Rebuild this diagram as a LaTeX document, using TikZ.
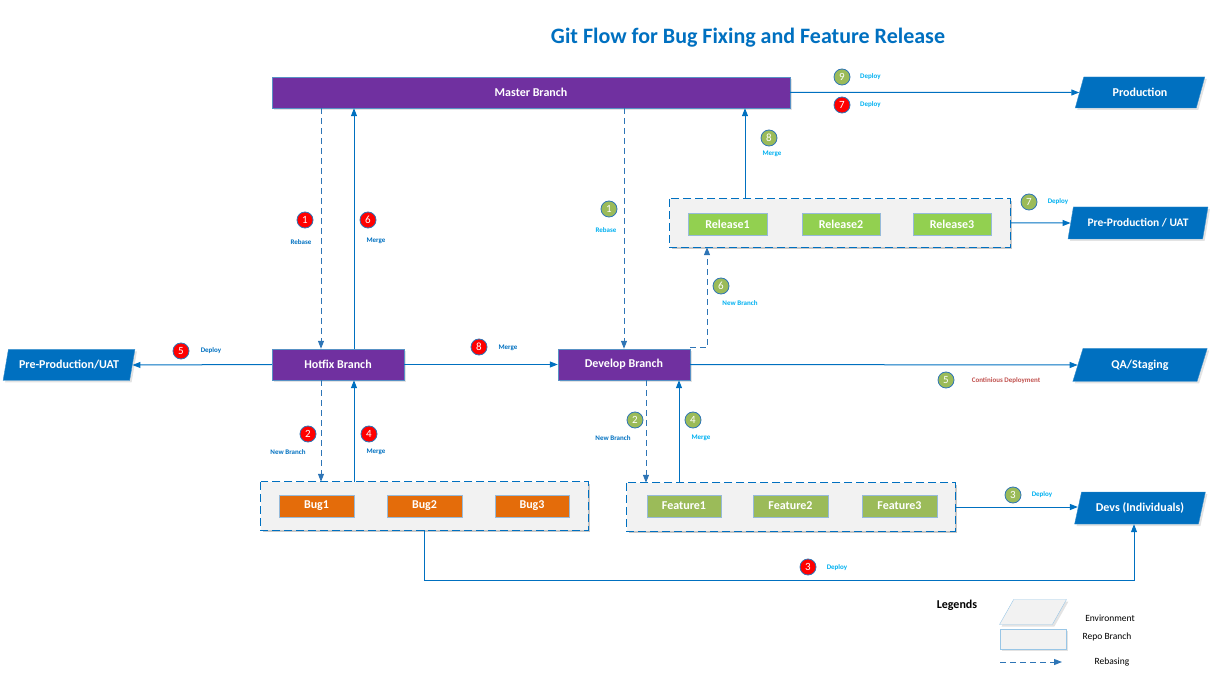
\documentclass[tikz,border=0pt]{standalone}
\usepackage{fontspec}
\setmainfont{Carlito}
\usetikzlibrary{arrows.meta,shapes.geometric,shadows}
\definecolor{tblue}{RGB}{0,112,192}
\definecolor{gpurple}{RGB}{112,48,160}
\definecolor{lgreen}{RGB}{146,208,80}
\definecolor{olive}{RGB}{155,187,89}
\definecolor{gorange}{RGB}{228,108,10}
\definecolor{lblue}{RGB}{0,176,240}
\definecolor{dblue}{RGB}{46,117,182}
\definecolor{cdred}{RGB}{192,80,77}
\definecolor{grpgray}{RGB}{242,242,242}
\definecolor{shadcol}{RGB}{200,200,200}
\begin{document}
\begin{tikzpicture}[x=1pt,y=-1pt,
  shad/.style={drop shadow={shadow xshift=2pt,shadow yshift=-2pt,fill=shadcol,draw=none,solid}},
  mshad/.style={preaction={draw=none,fill=shadcol,transform canvas={shift={(2pt,-2pt)}}}},
  branch/.style={rectangle,draw=dblue!80,fill=gpurple,text=white,font=\bfseries\fontsize{12}{14}\selectfont,minimum height=31pt,inner sep=0pt,shad},
  env/.style={trapezium,trapezium left angle=64,trapezium right angle=116,trapezium stretches=true,fill=tblue,draw=tblue!80!white,text=white,font=\bfseries\fontsize{12}{14}\selectfont,minimum height=31pt,minimum width=130pt,inner sep=0pt,shad},
  grp/.style={rectangle,fill=grpgray,minimum height=48pt,inner sep=0pt,mshad},
  grpborder/.style={draw=tblue,color=tblue,dash pattern=on 8pt off 4pt,line width=1pt},
  item/.style={rectangle,draw=dblue!50,text=white,font=\bfseries\fontsize{12}{14}\selectfont,minimum height=22pt,inner sep=0pt},
  link/.style={draw=tblue,line width=1pt,-{Triangle[length=8pt,width=6pt]}},
  reb/.style={draw=dblue,line width=1pt,dash pattern=on 6pt off 4pt,-{Triangle[length=8pt,width=6pt]}},
  badge/.style={circle,draw=dblue,line width=0.8pt,minimum size=16pt,inner sep=0pt,text=white,font=\fontsize{11}{13}\selectfont},
  rbadge/.style={badge,fill=red},
  gbadge/.style={badge,fill=olive},
  lbl/.style={font=\bfseries\fontsize{7}{8}\selectfont,inner sep=0pt},
  legtxt/.style={font=\fontsize{9.5}{11}\selectfont,inner sep=0pt}
]
\useasboundingbox (0,0) rectangle (1227,676);
% title
\node[text=tblue,font=\bfseries\fontsize{22}{26}\selectfont] (title) at (748,38) {Git Flow for Bug Fixing and Feature Release};
% branches
\node[branch,minimum width=518pt] (master) at (531,92.5) {Master Branch};
\node[branch,minimum width=132pt] (hotfix) at (338,364.5) {Hotfix Branch};
\node[branch,minimum width=132pt] (develop) at (624,364.5) {Develop Branch};
% environments
\node[env] (prod) at (1140,92.5) {Production};
\node[env,minimum width=140pt,minimum height=32pt,font=\bfseries\fontsize{11.5}{13}\selectfont] (preprod) at (1138,223) {Pre-Production / UAT};
\node[env,minimum width=132pt] (ppuat) at (69,365) {Pre-Production/UAT};
\node[env,minimum width=135pt,minimum height=33pt] (qa) at (1140,365) {QA/Staging};
\node[env,minimum width=131pt,minimum height=32pt] (devs) at (1140,508) {Devs (Individuals)};
% groups
\node[grp,minimum width=340pt] (relgroup) at (840,223) {};
\node[grp,minimum width=327pt] (buggroup) at (424.5,506) {};
\node[grp,minimum width=328pt] (featgroup) at (791,507) {};
\draw[grpborder] (relgroup.north west) rectangle (relgroup.south east);
\draw[grpborder] (buggroup.north west) rectangle (buggroup.south east);
\draw[grpborder] (featgroup.north west) rectangle (featgroup.south east);
\node[item,fill=lgreen,minimum width=79pt] (rel1) at (727.5,224) {Release1};
\node[item,fill=lgreen,minimum width=78pt] (rel2) at (841,224) {Release2};
\node[item,fill=lgreen,minimum width=78pt] (rel3) at (952,224) {Release3};
\node[item,fill=gorange,minimum width=75pt] (bug1) at (316.5,506) {Bug1};
\node[item,fill=gorange,minimum width=75pt] (bug2) at (424.5,506) {Bug2};
\node[item,fill=gorange,minimum width=74pt] (bug3) at (532,506) {Bug3};
\node[item,fill=olive,minimum width=74pt] (feat1) at (684,506) {Feature1};
\node[item,fill=olive,minimum width=75pt] (feat2) at (790.5,506) {Feature2};
\node[item,fill=olive,minimum width=75pt] (feat3) at (899.5,506) {Feature3};
% helper coordinates
\coordinate (hA) at ([xshift=-17pt]hotfix.north);
\coordinate (hB) at ([xshift=16pt]hotfix.north);
\coordinate (hA2) at ([xshift=-17pt]hotfix.south);
\coordinate (hB2) at ([xshift=16pt]hotfix.south);
\coordinate (dA) at ([xshift=22pt]develop.south);
\coordinate (dB) at ([xshift=55pt]develop.south);
\coordinate (rA) at ([xshift=-95pt]relgroup.north);
\coordinate (rB) at ([xshift=-133pt]relgroup.south);
\coordinate (dv) at ([xshift=-6pt]devs.south);
% connectors
\draw[link] (master.east) -- (prod.west);
\draw[reb] (hA |- master.south) -- (hA);
\draw[link] (hB) -- (hB |- master.south);
\draw[reb] (develop.north |- master.south) -- (develop.north);
\draw[link] (rA) -- (rA |- master.south);
\draw[link] (relgroup.east) -- (preprod.west);
\draw[reb] ([yshift=1pt]develop.north east) -| (rB);
\draw[link] (hotfix.west) -- (ppuat.east);
\draw[link] (hotfix.east) -- (develop.west);
\draw[link] (develop.east) -- (qa.west);
\draw[reb] (hA2) -- (hA2 |- buggroup.north);
\draw[link] (hB2 |- buggroup.north) -- (hB2);
\draw[reb] (dA) -- (dA |- featgroup.north);
\draw[link] (dB |- featgroup.north) -- (dB);
\draw[link] (featgroup.east) -- (featgroup.east -| devs.west);
\draw[link] (buggroup.south) -- ++(0,50) -| (dv);
% badges and labels
\node[gbadge] (b9) at (842,77) {9};
\node[lbl,text=lblue,anchor=west] (l9) at (860,77) {Deploy};
\node[rbadge] (b7r) at (842,105) {7};
\node[lbl,text=lblue,anchor=west] (l7r) at (860,105) {Deploy};
\node[rbadge] (b1r) at (305,220) {1};
\node[lbl,text=tblue] (l1r) at (301,242) {Rebase};
\node[rbadge] (b6r) at (368,220) {6};
\node[lbl,text=tblue] (l6r) at (376,241) {Merge};
\node[gbadge] (b1g) at (609,209) {1};
\node[lbl,text=lblue] (l1g) at (606,230) {Rebase};
\node[gbadge] (b8g) at (769,138) {8};
\node[lbl,text=lblue] (l8g) at (772,154) {Merge};
\node[gbadge] (b7g) at (1029,202) {7};
\node[lbl,text=lblue] (l7g) at (1058,202) {Deploy};
\node[gbadge] (b6g) at (721,286) {6};
\node[lbl,text=lblue] (l6g) at (740,303) {New Branch};
\node[rbadge] (b5r) at (181,351) {5};
\node[lbl,text=tblue] (l5r) at (211,351) {Deploy};
\node[rbadge] (b8r) at (479,347) {8};
\node[lbl,text=tblue] (l8r) at (508,348) {Merge};
\node[gbadge] (b5g) at (946,380) {5};
\node[lbl,text=cdred] (l5g) at (1006,381) {Continious Deployment};
\node[rbadge] (b2r) at (308,434) {2};
\node[lbl,text=tblue] (l2r) at (288,452) {New Branch};
\node[rbadge] (b4r) at (369,434) {4};
\node[lbl,text=tblue] (l4r) at (376,452) {Merge};
\node[gbadge] (b2g) at (635,420) {2};
\node[lbl,text=tblue] (l2g) at (613,438) {New Branch};
\node[gbadge] (b4g) at (693,420) {4};
\node[lbl,text=lblue] (l4g) at (701,438) {Merge};
\node[gbadge] (b3g) at (1013,495) {3};
\node[lbl,text=lblue] (l3g) at (1042,495) {Deploy};
\node[rbadge] (b3r) at (808,567) {3};
\node[lbl,text=lblue] (l3r) at (837,568) {Deploy};
% legend
\node[font=\bfseries\fontsize{12}{14}\selectfont,inner sep=0pt] (leg) at (957,605) {Legends};
\node[trapezium,trapezium left angle=64,trapezium right angle=116,trapezium stretches=true,fill=grpgray,draw=tblue!40,minimum width=67pt,minimum height=25pt,inner sep=0pt,shad] (legenv) at (1033,612) {\phantom{M}};
\node[legtxt] (legenvt) at (1110,618) {Environment};
\node[rectangle,fill=grpgray,draw=tblue!40,minimum width=66pt,minimum height=20pt,inner sep=0pt,shad] (legrepo) at (1033,639) {};
\node[legtxt] (legrepot) at (1107,637) {Repo Branch};
\coordinate (la) at (1000,662);
\coordinate (lb) at (1062,662);
\draw[reb] (la) -- (lb);
\node[legtxt] (legrebt) at (1112,662) {Rebasing};
\end{tikzpicture}
\end{document}
